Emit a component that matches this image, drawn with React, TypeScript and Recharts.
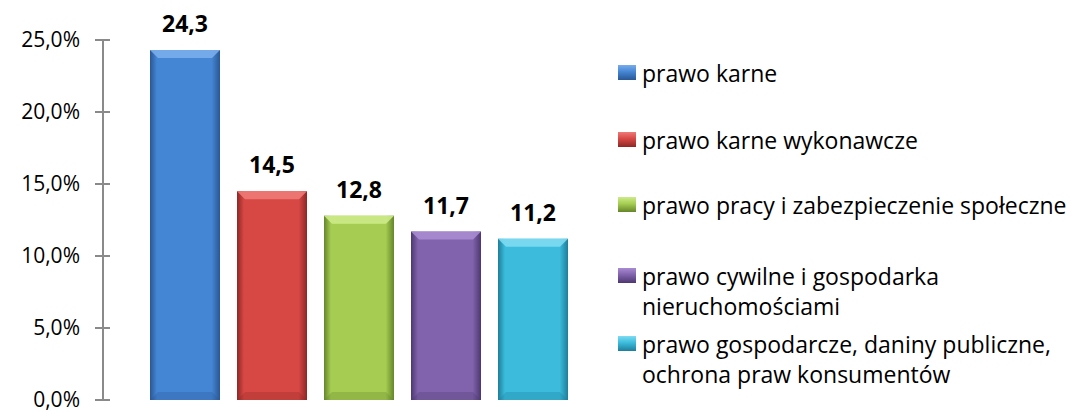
import { BarChart, Bar, XAxis, YAxis, LabelList, Legend } from "recharts";

const SERIES = ["s0", "s1", "s2", "s3", "s4"];
const VALUES = [24.3, 14.5, 12.8, 11.7, 11.2];
const LEGEND_LINES = [
  ["prawo karne"],
  ["prawo karne wykonawcze"],
  ["prawo pracy i zabezpieczenie społeczne"],
  ["prawo cywilne i gospodarka", "nieruchomościami"],
  ["prawo gospodarcze, daniny publiczne,", "ochrona praw konsumentów"],
];
const Y_TICKS = [0, 5, 10, 15, 20, 25];

// body / edge / top bevel colours per series
const COLORS = [
  { mid: "#4586d4", edge: "#2a5794", top: "#79adec" },
  { mid: "#d74845", edge: "#8e2725", top: "#ee7a77" },
  { mid: "#a6cd52", edge: "#65852a", top: "#cdeb8a" },
  { mid: "#8163ad", edge: "#4d376f", top: "#a98bd2" },
  { mid: "#3cbbdc", edge: "#1f7e9b", top: "#7ddcf2" },
];

const LEGEND_CENTERS = [73, 140, 205, 276, 344];

const row: Record<string, number | string> = { name: "" };
SERIES.forEach((k, i) => (row[k] = VALUES[i]));
const data = [row];

const fmt = (v: number) => v.toFixed(1).replace(".", ",");

function BevelBar(props: any) {
  const { x, y, width, height, idx } = props;
  if (!height || height <= 0) return null;
  const c = COLORS[idx];
  const b = 8;
  return (
    <g>
      <rect x={x} y={y} width={width} height={height} fill={`url(#body${idx})`} />
      <polygon
        points={`${x},${y} ${x + width},${y} ${x + width - b},${y + b} ${x + b},${y + b}`}
        fill={c.top}
        opacity={0.9}
      />
      <polygon
        points={`${x},${y + height} ${x + width},${y + height} ${x + width - b},${y + height - b} ${x + b},${y + height - b}`}
        fill={c.edge}
        opacity={0.3}
      />
    </g>
  );
}

function YTick(props: any) {
  const { x, y, payload } = props;
  return (
    <g>
      <line x1={x - 8} x2={x + 7} y1={y} y2={y} stroke="#8a8a8a" strokeWidth={2} />
      <text
        x={x - 23}
        y={y}
        dy="0.33em"
        textAnchor="end"
        fontFamily="Open Sans"
        fontSize={21}
        fill="#000"
      >
        {fmt(payload.value)}%
      </text>
    </g>
  );
}

function LegendBox() {
  return (
    <div style={{ position: "relative", width: 454, height: 412 }}>
      {LEGEND_LINES.map((lines, i) => (
        <div
          key={i}
          style={{
            position: "absolute",
            left: 0,
            top: LEGEND_CENTERS[i] - 15,
            fontFamily: "Open Sans",
            fontSize: 23,
            lineHeight: "30px",
            color: "#000",
            whiteSpace: "nowrap",
          }}
        >
          <span
            style={{
              position: "absolute",
              left: 0,
              top: 7,
              width: 18,
              height: 15,
              background: `linear-gradient(180deg, ${COLORS[i].top} 0%, ${COLORS[i].mid} 45%, ${COLORS[i].edge} 100%)`,
            }}
          />
          <div style={{ marginLeft: 24 }}>
            {lines.map((l, j) => (
              <div key={j}>{l}</div>
            ))}
          </div>
        </div>
      ))}
    </div>
  );
}

export default function App() {
  return (
    <div style={{ position: "absolute", left: 0, top: 0, background: "#fff" }}>
      <BarChart
        width={1072}
        height={412}
        data={data}
        margin={{ top: 40, right: 457, bottom: 12, left: 0 }}
        barGap={17}
        barCategoryGap={0}
      >
        <defs>
          {COLORS.map((c, i) => (
            <linearGradient key={i} id={`body${i}`} x1="0" y1="0" x2="1" y2="0">
              <stop offset="0%" stopColor={c.edge} />
              <stop offset="10%" stopColor={c.mid} />
              <stop offset="88%" stopColor={c.mid} />
              <stop offset="100%" stopColor={c.edge} />
            </linearGradient>
          ))}
        </defs>
        <XAxis
          dataKey="name"
          tick={false}
          tickLine={false}
          height={0}
          axisLine={{ stroke: "#8a8a8a", strokeWidth: 2 }}
        />
        <YAxis
          width={103}
          domain={[0, 25]}
          ticks={Y_TICKS}
          interval={0}
          tickSize={0}
          tickMargin={0}
          tickLine={false}
          axisLine={{ stroke: "#8a8a8a", strokeWidth: 2 }}
          tick={<YTick />}
        />
        <Legend
          layout="vertical"
          align="center"
          verticalAlign="middle"
          wrapperStyle={{ left: 618, top: 0, width: 454, height: 412 }}
          content={() => <LegendBox />}
        />
        {SERIES.map((k, i) => (
          <Bar
            key={k}
            dataKey={k}
            name={LEGEND_LINES[i].join(" ")}
            barSize={70}
            fill={COLORS[i].mid}
            isAnimationActive={false}
            shape={(p: any) => <BevelBar {...p} idx={i} />}
          >
            <LabelList
              dataKey={k}
              position="top"
              offset={18}
              formatter={(v: any) => fmt(Number(v))}
              style={{ fontFamily: "Open Sans", fontSize: 23, fontWeight: 700, fill: "#000" }}
            />
          </Bar>
        ))}
      </BarChart>
    </div>
  );
}
